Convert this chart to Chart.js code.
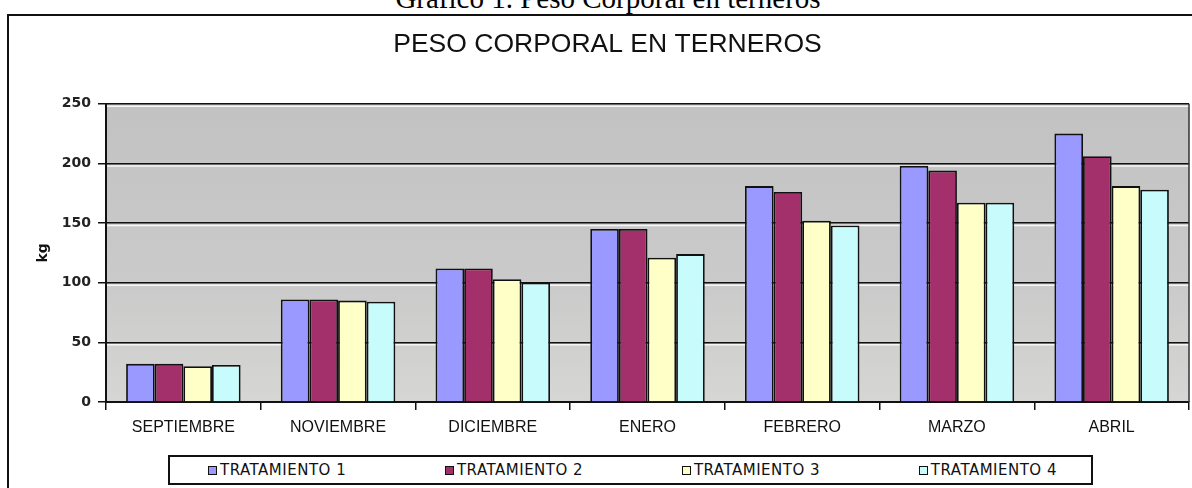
<!DOCTYPE html>
<html>
<head>
<meta charset="utf-8">
<script src="https://cdn.jsdelivr.net/npm/chart.js@4.4.0/dist/chart.umd.min.js"></script>
<style>
  body { margin: 0; width: 1192px; height: 488px; overflow: hidden; background: #fff; position: relative; }
  #caption { position: absolute; left: 0; top: -16px; width: 1216px; text-align: center;
    font-family: 'Liberation Serif', 'Times New Roman', serif; font-size: 29px; line-height: 29px; color: #000; }
  #frame { position: absolute; left: 7px; top: 14px; width: 1300px; height: 600px; border: 2px solid #111; }
  #wrap { position: absolute; left: 0; top: 0; width: 1192px; height: 488px; }
  #legend { position: absolute; left: 168px; top: 455px; width: 925px; height: 30px; box-sizing: border-box;
    border: 2px solid #111; background: #fff; display: flex; align-items: center; justify-content: space-between;
    padding: 0 34px 0 38px; font-family: 'DejaVu Sans', sans-serif; font-size: 15px; letter-spacing: 0.5px; color: #111; }
  .item { display: flex; align-items: center; }
  .sw { width: 7px; height: 7px; border: 1px solid #111; margin-right: 3px; }
</style>
</head>
<body>
<div id="caption">Gráfico 1. Peso Corporal en terneros</div>
<div id="frame"></div>
<div id="wrap"><canvas id="pesoChart" width="1192" height="488"></canvas></div>
<div id="legend"></div>
<script>
const months = ['SEPTIEMBRE', 'NOVIEMBRE', 'DICIEMBRE', 'ENERO', 'FEBRERO', 'MARZO', 'ABRIL'];
const seriesNames = ['TRATAMIENTO 1', 'TRATAMIENTO 2', 'TRATAMIENTO 3', 'TRATAMIENTO 4'];
const tratamiento1 = [32, 86, 112, 145, 181, 198, 225];
const tratamiento2 = [32, 86, 112, 145, 176, 194, 206];
const tratamiento3 = [30, 85, 103, 121, 152, 167, 181];
const tratamiento4 = [31, 84, 100, 124, 148, 167, 178];
const yTicks = [0, 50, 100, 150, 200, 250];

const colors = ['#9999FF', '#A3306B', '#FFFFC8', '#C8FCFC'];

// gray plot area plus the white line under each gridline (old Excel look)
const plotBackground = {
  id: 'plotBackground',
  beforeDraw(chart) {
    const { ctx, chartArea: a } = chart;
    const g = ctx.createLinearGradient(0, a.top, 0, a.bottom);
    g.addColorStop(0, '#c2c2c2');
    g.addColorStop(0.6, '#cacaca');
    g.addColorStop(1, '#d6d6d4');
    ctx.save();
    ctx.fillStyle = g;
    ctx.fillRect(a.left, a.top, a.right - a.left, a.bottom - a.top);
    ctx.restore();
  },
  beforeDatasetsDraw(chart) {
    const { ctx, chartArea: a, scales: { y } } = chart;
    ctx.save();
    ctx.strokeStyle = '#f6f6f6';
    ctx.lineWidth = 1.5;
    y.ticks.forEach(t => {
      if (t.value === 0) return;
      const py = y.getPixelForValue(t.value) + 2.5;
      ctx.beginPath();
      ctx.moveTo(a.left + 1, py);
      ctx.lineTo(a.right, py);
      ctx.stroke();
    });
    ctx.strokeStyle = '#333';
    ctx.beginPath();
    ctx.moveTo(a.right, a.top);
    ctx.lineTo(a.right, a.bottom);
    ctx.stroke();
    ctx.restore();
  }
};

function createPesoChart() {
  const values = [tratamiento1, tratamiento2, tratamiento3, tratamiento4];
  const data = {
    labels: months,
    datasets: seriesNames.map((name, i) => ({
      label: name,
      data: values[i],
      backgroundColor: colors[i],
      borderColor: '#111',
      borderWidth: 1.8,
      borderSkipped: 'bottom',
      categoryPercentage: 0.74,
      barPercentage: 1
    }))
  };

  const ctx = document.getElementById('pesoChart').getContext('2d');
  const chart = new Chart(ctx, {
    type: 'bar',
    data: data,
    plugins: [plotBackground],
    options: {
      responsive: false,
      animation: false,
      layout: { padding: { left: 26, right: 3, top: 16, bottom: 0 } },
      plugins: {
        legend: { display: false },
        tooltip: { enabled: false },
        title: {
          display: true,
          text: 'PESO CORPORAL EN TERNEROS',
          font: { family: 'Liberation Sans', size: 26.5, weight: 'normal' },
          color: '#111',
          padding: { top: 13, bottom: 43 }
        }
      },
      scales: {
        x: {
          afterFit: s => { s.height = 86; },
          grid: { offset: true, drawOnChartArea: false, drawTicks: true, tickLength: 8, color: '#111', lineWidth: 1.5 },
          border: { display: true, color: '#111', width: 2 },
          ticks: { padding: 8, color: '#111', font: { family: 'Liberation Sans', size: 16 } }
        },
        y: {
          min: 0,
          max: 250,
          afterFit: s => { s.width = 80; },
          afterBuildTicks: s => { s.ticks = yTicks.map(v => ({ value: v })); },
          grid: { color: '#111', lineWidth: 1.5, drawTicks: true, tickLength: 8, tickColor: '#111' },
          border: { display: true, color: '#111', width: 2 },
          ticks: { padding: 7, color: '#222', font: { family: 'DejaVu Sans', size: 14, weight: 'bold' } },
          title: {
            display: true,
            text: 'kg',
            color: '#111',
            font: { family: 'DejaVu Sans', size: 14, weight: 'bold' },
            padding: { top: 9, bottom: 0 }
          }
        }
      }
    }
  });

  // legend as html, built from the datasets
  const legend = document.getElementById('legend');
  chart.data.datasets.forEach(ds => {
    const item = document.createElement('div');
    item.className = 'item';
    const sw = document.createElement('span');
    sw.className = 'sw';
    sw.style.background = ds.backgroundColor;
    const txt = document.createElement('span');
    txt.textContent = ds.label;
    item.appendChild(sw);
    item.appendChild(txt);
    legend.appendChild(item);
  });
}

createPesoChart();
</script>
</body>
</html>
